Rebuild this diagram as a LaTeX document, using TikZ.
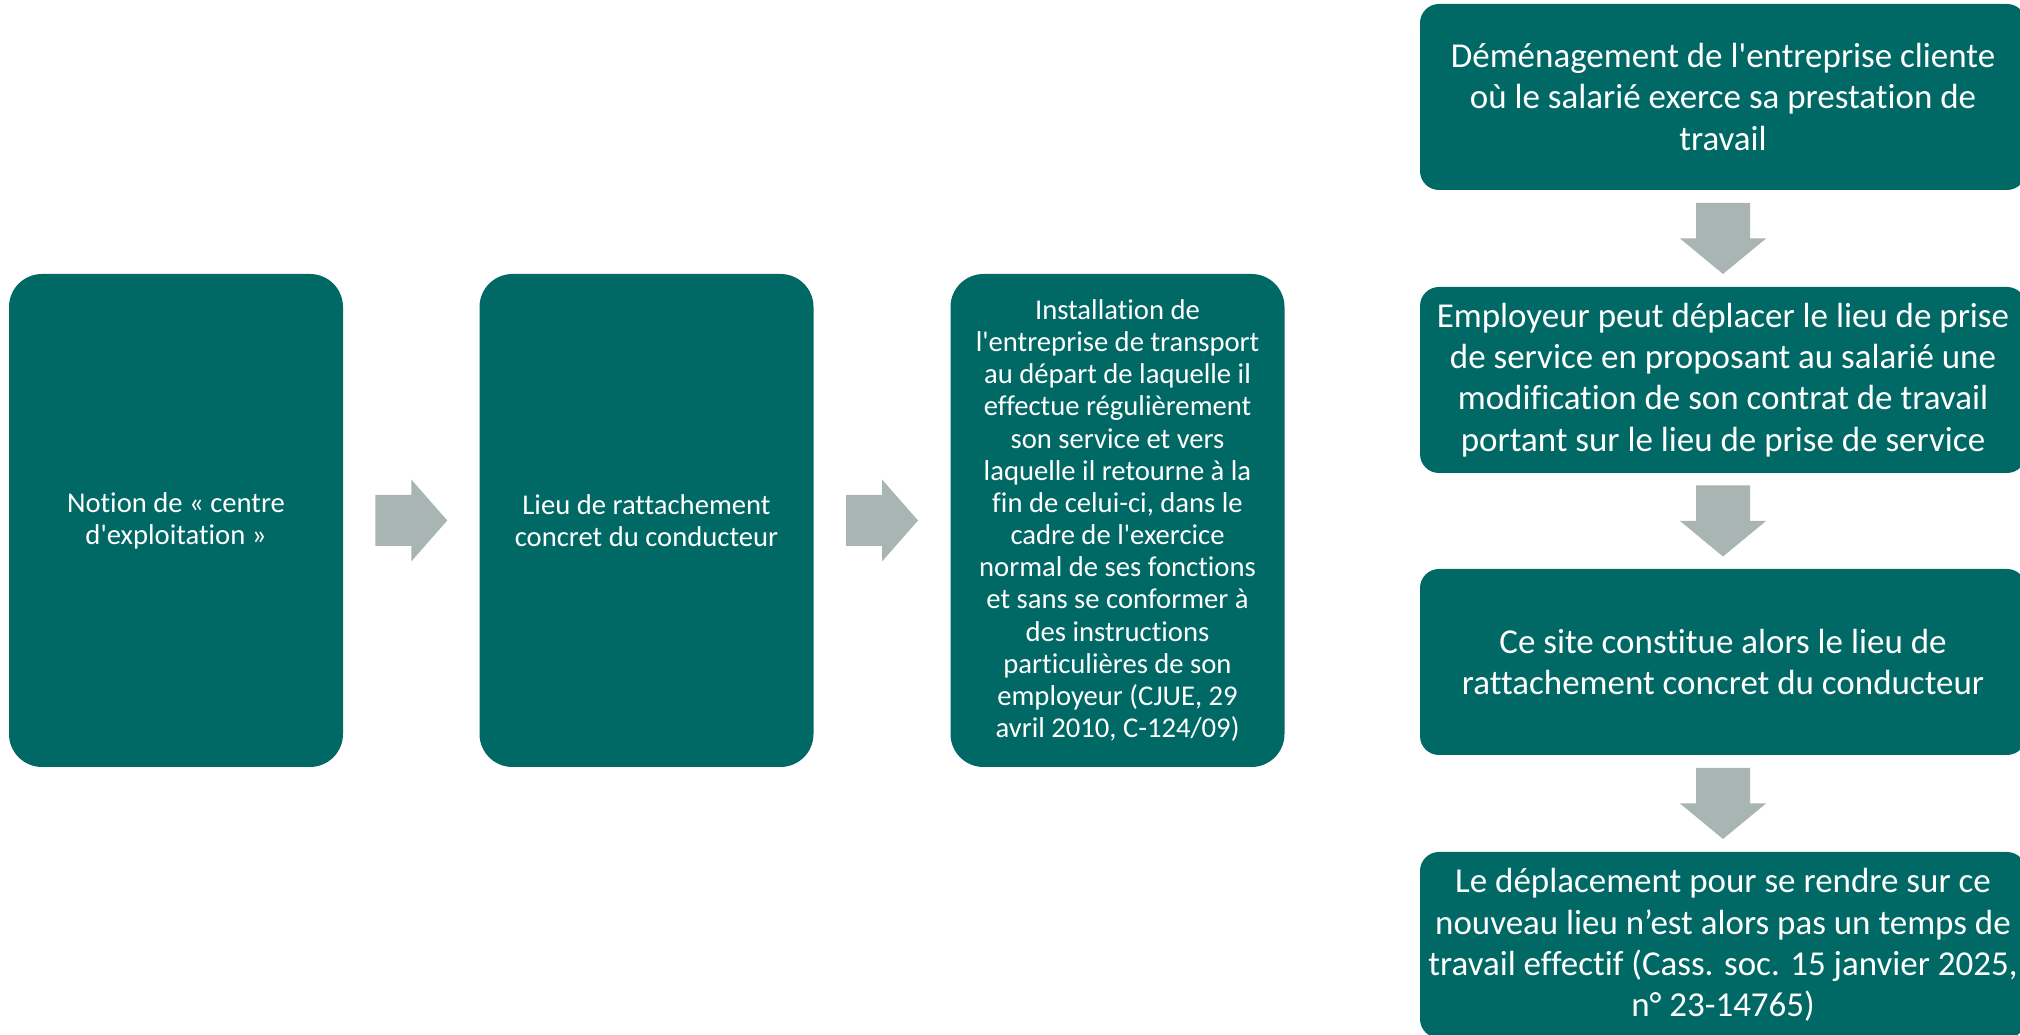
\documentclass[tikz,border=0pt]{standalone}
\usepackage{fontspec}
\usetikzlibrary{calc}
\newfontfamily\carlito{Carlito}[RawFeature={-liga;-clig;-calt;-dlig}]
\definecolor{tealbox}{RGB}{0,105,101}
\definecolor{arrowgrey}{RGB}{169,181,179}
\tikzset{
  box/.style={rectangle, fill=tealbox, text=white, align=center, inner sep=4pt},
  tallbox/.style={box, rounded corners=0.66cm, minimum width=6.68cm, minimum height=9.86cm,
    font=\carlito\fontsize{16.3}{18.3}\selectfont},
  widebox/.style={box, rounded corners=0.38cm, minimum width=12.12cm, minimum height=3.72cm,
    font=\carlito\fontsize{19.9}{23.5}\selectfont},
}
% grey block arrows, drawn halfway between two boxes
\newcommand{\rightblock}[2]{%
  \coordinate (mid) at ($(#1.east)!0.5!(#2.west)$);
  \fill[arrowgrey] (mid) ++(-0.72,0.51) -- ++(0.72,0) -- ++(0,0.31) -- ++(0.72,-0.82)
    -- ++(-0.72,-0.82) -- ++(0,0.31) -- ++(-0.72,0) -- cycle;}
\newcommand{\downblock}[2]{%
  \coordinate (mid) at ($(#1.south)!0.5!(#2.north)$);
  \fill[arrowgrey] (mid) ++(-0.54,0.71) -- ++(1.08,0) -- ++(0,-0.71) -- ++(0.32,0)
    -- ++(-0.86,-0.71) -- ++(-0.86,0.71) -- ++(0.32,0) -- cycle;}
\begin{document}
\begin{tikzpicture}
    \useasboundingbox (0,0) rectangle (40.4,20.7);
    \clip (0,0) rectangle (40.4,20.7);

    % left row: three tall boxes
    \node[tallbox] (notion) at (3.52,10.29) {Notion de « centre\\d'exploitation »};
    \node[tallbox] (lieu) at (12.93,10.29) {Lieu de rattachement\\concret du conducteur};
    \node[tallbox] (install) at (22.35,10.29) {Installation de\\l'entreprise de transport\\au départ de laquelle il\\effectue régulièrement\\son service et vers\\laquelle il retourne à la\\fin de celui-ci, dans le\\cadre de l'exercice\\normal de ses fonctions\\et sans se conformer à\\des instructions\\particulières de son\\employeur (CJUE, 29\\avril 2010, C-124/09)};

    \rightblock{notion}{lieu}
    \rightblock{lieu}{install}

    % right column: the move of the client company
    \node[widebox] (demenag) at (34.46,18.76) {Déménagement de l'entreprise cliente\\où le salarié exerce sa prestation de\\travail};
    \node[widebox] (employeur) at (34.46,13.10) {Employeur peut déplacer le lieu de prise\\de service en proposant au salarié une\\modification de son contrat de travail\\portant sur le lieu de prise de service};
    \node[widebox] (site) at (34.46,7.46) {Ce site constitue alors le lieu de\\rattachement concret du conducteur};
    \node[widebox] (trajet) at (34.46,1.80) {Le déplacement pour se rendre sur ce\\nouveau lieu n’est alors pas un temps de\\travail effectif (Cass. soc. 15 janvier 2025,\\n° 23-14765)};

    \downblock{demenag}{employeur}
    \downblock{employeur}{site}
    \downblock{site}{trajet}
\end{tikzpicture}
\end{document}
